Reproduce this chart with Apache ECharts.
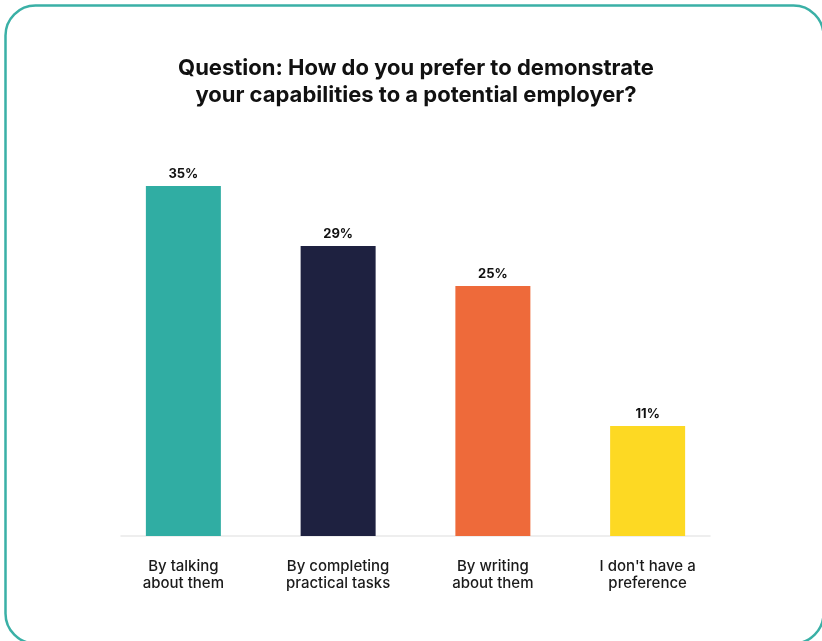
<!DOCTYPE html>
<html>
<head>
<meta charset="utf-8">
<script src="https://cdn.jsdelivr.net/npm/echarts@6/dist/echarts.min.js"></script>
<style>
  html, body { margin: 0; padding: 0; background: #ffffff; }
  #chart { width: 822px; height: 641px; }
</style>
</head>
<body>
<div id="chart"></div>
<script>
// Survey answers and their shares (%)
const categories = [
  'By talking\nabout them',
  'By completing\npractical tasks',
  'By writing\nabout them',
  "I don't have a\npreference"
];
const shares = [35, 29, 25, 11];
const barColors = ['#30ada3', '#1e2140', '#ee6a3a', '#fdd923'];
const titleText = 'Question: How do you prefer to demonstrate\nyour capabilities to a potential employer?';

const FONT = 'Inter, "DejaVu Sans", sans-serif';

const chart = echarts.init(document.getElementById('chart'), null, { renderer: 'canvas' });

chart.setOption({
  backgroundColor: '#ffffff',
  animation: false,
  title: {
    text: titleText,
    left: 411,
    top: 50,
    textAlign: 'center',
    textStyle: {
      fontFamily: FONT,
      fontSize: 22,
      fontWeight: 700,
      color: '#111111',
      lineHeight: 27
    }
  },
  graphic: [{
    type: 'rect',
    silent: true,
    shape: { x: 5.5, y: 5.5, width: 818, height: 638, r: 30 },
    style: { fill: 'none', stroke: '#3ab0a6', lineWidth: 2.5 }
  }],
  grid: [
    { left: 106, right: 97, top: 136, bottom: 105 },
    { left: 121, right: 112, top: 136, bottom: 105 }
  ],
  xAxis: [{
    type: 'category',
    gridIndex: 0,
    data: categories,
    axisLine: { show: false },
    axisTick: { show: false },
    axisLabel: {
      margin: 22,
      fontFamily: FONT,
      fontSize: 15,
      fontWeight: 500,
      color: '#1a1a1a',
      lineHeight: 17,
      interval: 0
    }
  }, {
    // baseline rule under the bars
    type: 'value',
    gridIndex: 1,
    min: 0,
    max: 1,
    axisLine: { show: true, lineStyle: { color: '#e9e9e9', width: 1.5 } },
    axisTick: { show: false },
    axisLabel: { show: false },
    splitLine: { show: false }
  }],
  yAxis: [{
    type: 'value',
    gridIndex: 0,
    min: 0,
    max: 40,
    show: false,
    splitLine: { show: false }
  }, {
    type: 'value',
    gridIndex: 1,
    show: false,
    splitLine: { show: false }
  }],
  series: [{
    type: 'bar',
    xAxisIndex: 0,
    yAxisIndex: 0,
    data: shares.map((v, i) => ({ value: v, itemStyle: { color: barColors[i] } })),
    barWidth: 75,
    label: {
      show: true,
      position: 'top',
      distance: 5,
      formatter: '{c}%',
      fontFamily: FONT,
      fontSize: 13,
      fontWeight: 700,
      color: '#111111'
    }
  }]
});
</script>
</body>
</html>
